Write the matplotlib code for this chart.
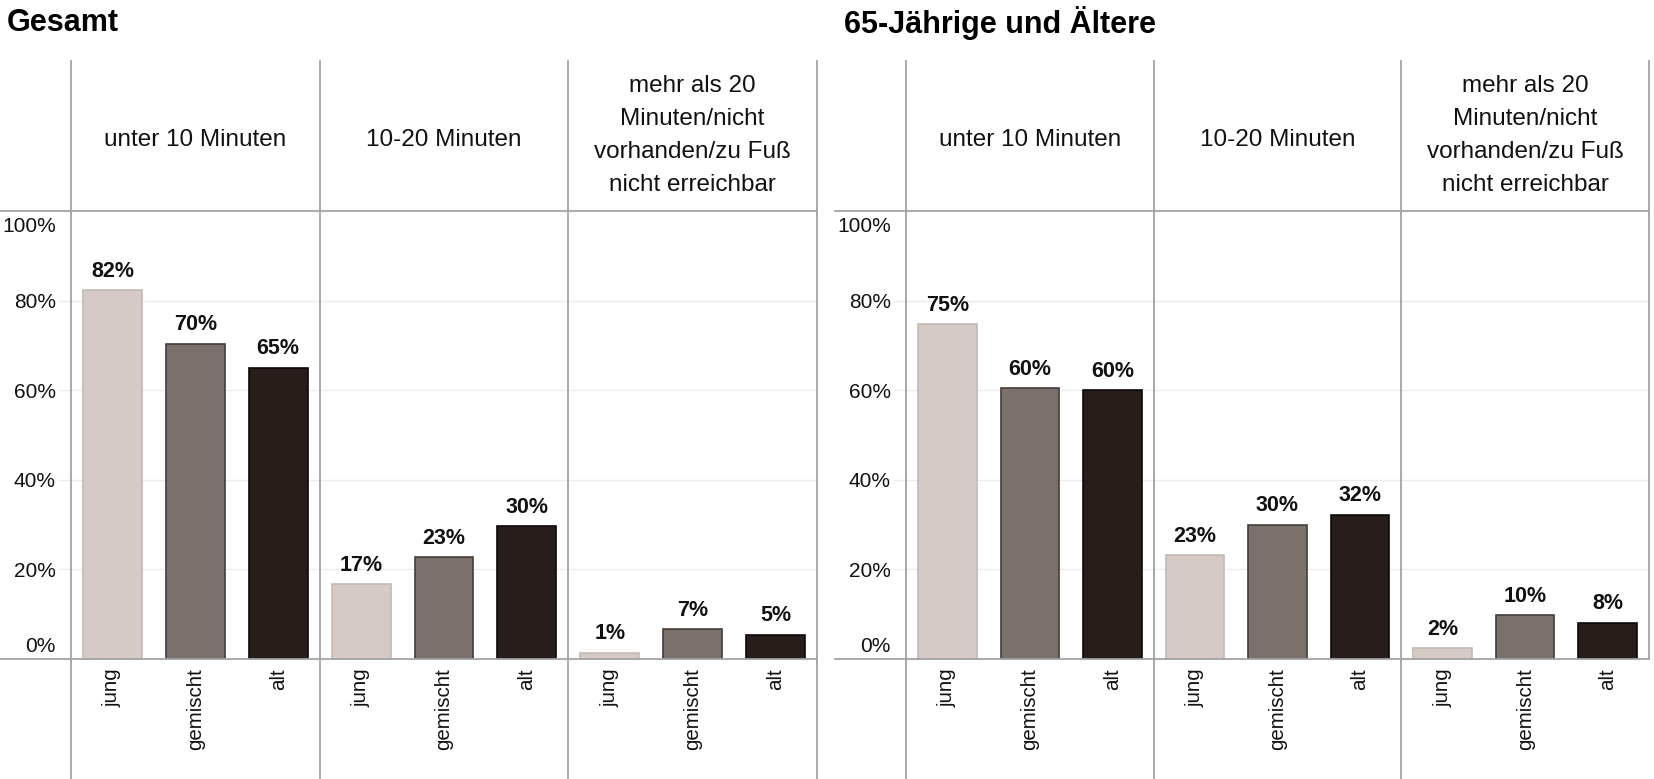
import numpy as np
import matplotlib.pyplot as plt
from matplotlib.transforms import ScaledTranslation

plt.rcParams['font.family'] = ['Liberation Sans', 'DejaVu Sans']

# Daten
gruppen = ['jung', 'gemischt', 'alt']
entfernung = ['unter 10 Minuten', '10-20 Minuten',
              'mehr als 20\nMinuten/nicht\nvorhanden/zu Fuß\nnicht erreichbar']
titel = ['Gesamt', '65-Jährige und Ältere']
gesamt = [82.3, 70.4, 65.0, 16.7, 22.7, 29.6, 1.4, 6.6, 5.4]
aeltere = [74.8, 60.4, 60.0, 23.2, 30.0, 32.2, 2.4, 9.8, 8.1]
yticks = [0, 20, 40, 60, 80, 100]

farben = ['#d5cac6', '#7b716c', '#271e1c']
kanten = ['#c4b8b3', '#463c38', '#0d0908']
linie = '#a3a3a3'

W, H = 1654, 779
fig = plt.figure(figsize=(W / 100, H / 100), dpi=100)

# Panel-Grenzen in Pixeln (links, rechts), Achse von y=211 (100%) bis y=659 (0%)
panels = [(71, 817), (906, 1649)]
titel_x = [7, 844]
y_top, y_bot = 211, 659
h_px = y_bot - y_top

for k, (werte, (x0, x1)) in enumerate(zip([gesamt, aeltere], panels)):
    ax = fig.add_axes([x0 / W, 1 - y_bot / H, (x1 - x0) / W, h_px / H])
    x = np.arange(len(werte))
    ax.bar(x, werte, width=0.71, color=farben * 3, edgecolor=kanten * 3,
           linewidth=1.2, zorder=3)
    ax.set_xlim(-0.5, 8.5)
    ax.set_ylim(0, 100)
    for s in ax.spines.values():
        s.set_visible(False)

    breite = x1 - x0
    # Gitter
    for t in yticks[1:-1]:
        ax.axhline(t, xmin=-12 / breite, xmax=1, color='#ebebeb', lw=1.0,
                   zorder=1, clip_on=False)

    ax.set_yticks(yticks, [f'{t}%' for t in yticks])
    ax.set_xticks(x, gruppen * 3, rotation=90)
    ax.tick_params(axis='y', length=0, pad=11, labelsize=15, labelcolor='#111111')
    ax.tick_params(axis='x', length=0, pad=7, labelsize=14.8, labelcolor='#111111')
    ylabels = ax.get_yticklabels()
    ylabels[0].set_transform(ylabels[0].get_transform()
                             + ScaledTranslation(0, 15 / 100, fig.dpi_scale_trans))
    ylabels[-1].set_transform(ylabels[-1].get_transform()
                              + ScaledTranslation(0, -14 / 100, fig.dpi_scale_trans))

    # Werte über den Balken
    for xi, v in zip(x, werte):
        ax.annotate(f'{round(v)}%', (xi, v), xytext=(0, 6), textcoords='offset points',
                    ha='center', va='bottom', fontsize=15.5, fontweight='bold', color='#111111')

    # Rahmenlinien (Kopfzeile / Grundlinie / Trenner)
    xmin = -(x0 - (0 if k == 0 else 835)) / breite
    ax.axhline(100, xmin=xmin, xmax=1, color=linie, lw=1.3, clip_on=False, zorder=4)
    ax.axhline(0, xmin=xmin, xmax=1, color=linie, lw=1.3, clip_on=False, zorder=4)
    unten = -(H - y_bot) / h_px
    oben = (y_bot - 61) / h_px
    for xs in [-0.5, 2.5, 5.5, 8.5]:
        ymin = 0 if (k == 1 and xs == 8.5) else unten
        ax.axvline(xs, ymin=ymin, ymax=oben, color=linie, lw=1.3, clip_on=False, zorder=4)

    # Kopfzeilen
    for i, txt in enumerate(entfernung):
        yk = (y_bot - (135.5 if '\n' in txt else 139.5)) / h_px
        ax.text(1 + 3 * i, yk, txt, transform=ax.get_xaxis_transform(),
                ha='center', va='center', fontsize=17.5, linespacing=1.66, color='#111111')

    fig.text(titel_x[k] / W, 1 - 23 / H, titel[k], fontsize=22, fontweight='bold',
             ha='left', va='center')

plt.savefig('out.png', dpi=100)
